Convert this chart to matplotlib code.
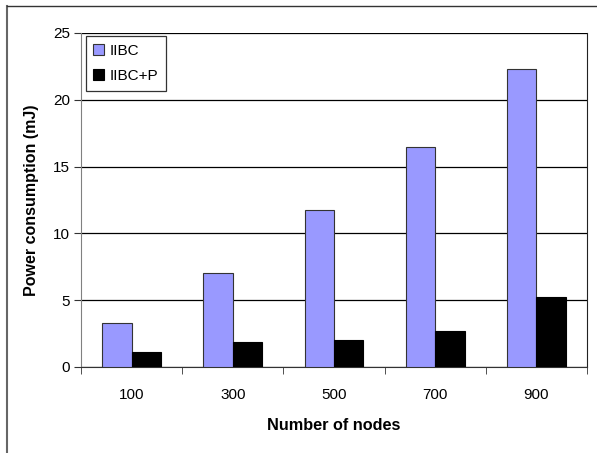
import matplotlib.pyplot as plt
import numpy as np

plt.rcParams['font.family'] = ['Liberation Sans', 'DejaVu Sans']

nodes = ['100', '300', '500', '700', '900']
iibc = [3.3, 7.0, 11.75, 16.45, 22.3]
iibc_p = [1.1, 1.9, 2.05, 2.7, 5.25]

fig = plt.figure(figsize=(5.97, 4.53), dpi=100)
ax = fig.add_axes([81 / 597, 1 - 367 / 453, 506 / 597, 334 / 453])

x = np.arange(len(nodes))
w = 0.29
ax.bar(x - w / 2, iibc, w, color='#9999FF', edgecolor='#333333', linewidth=0.8,
       label='IIBC', zorder=3)
ax.bar(x + w / 2, iibc_p, w, color='black', edgecolor='black', linewidth=0.8,
       label='IIBC+P', zorder=3)

ax.set_xlim(-0.5, len(nodes) - 0.5)
ax.set_ylim(0, 25)
ax.set_yticks(range(0, 26, 5))
ax.set_xticks(x)
ax.set_xticklabels(nodes, fontsize=11)
ax.set_xticks(np.arange(-0.5, len(nodes), 1), minor=True)
ax.tick_params(axis='x', which='major', length=0, pad=15)
ax.tick_params(axis='x', which='minor', length=5, direction='out', color='#333333')
ax.tick_params(axis='y', length=5, direction='out', labelsize=11, pad=3, color='#333333')
ax.yaxis.grid(True, color='black', linewidth=0.9, zorder=0)

ax.spines['top'].set_visible(False)
ax.spines['left'].set_color('#808080')
ax.spines['bottom'].set_color('#333333')
ax.spines['right'].set_color('#222222')

ax.set_xlabel('Number of nodes', fontsize=11.7, fontweight='bold', labelpad=12)
ax.set_ylabel('Power consumption (mJ)', fontsize=11.5, fontweight='bold', labelpad=10)

leg = ax.legend(loc='upper left', bbox_to_anchor=(0.0, 1.005), fontsize=11,
                frameon=True, fancybox=False, edgecolor='black', handlelength=0.7,
                handleheight=0.7, handletextpad=0.35, borderpad=0.5, labelspacing=0.75,
                borderaxespad=0.3)
leg.get_frame().set_linewidth(0.9)

# outer chart frame
fig.add_artist(plt.Line2D([7 / 597, 7 / 597], [0, 1 - 6 / 453], color='#666666',
                          linewidth=1.5, transform=fig.transFigure))
fig.add_artist(plt.Line2D([7 / 597, 1], [1 - 6 / 453, 1 - 6 / 453], color='#333333',
                          linewidth=1.0, transform=fig.transFigure))

fig.savefig('out.png', dpi=100)
